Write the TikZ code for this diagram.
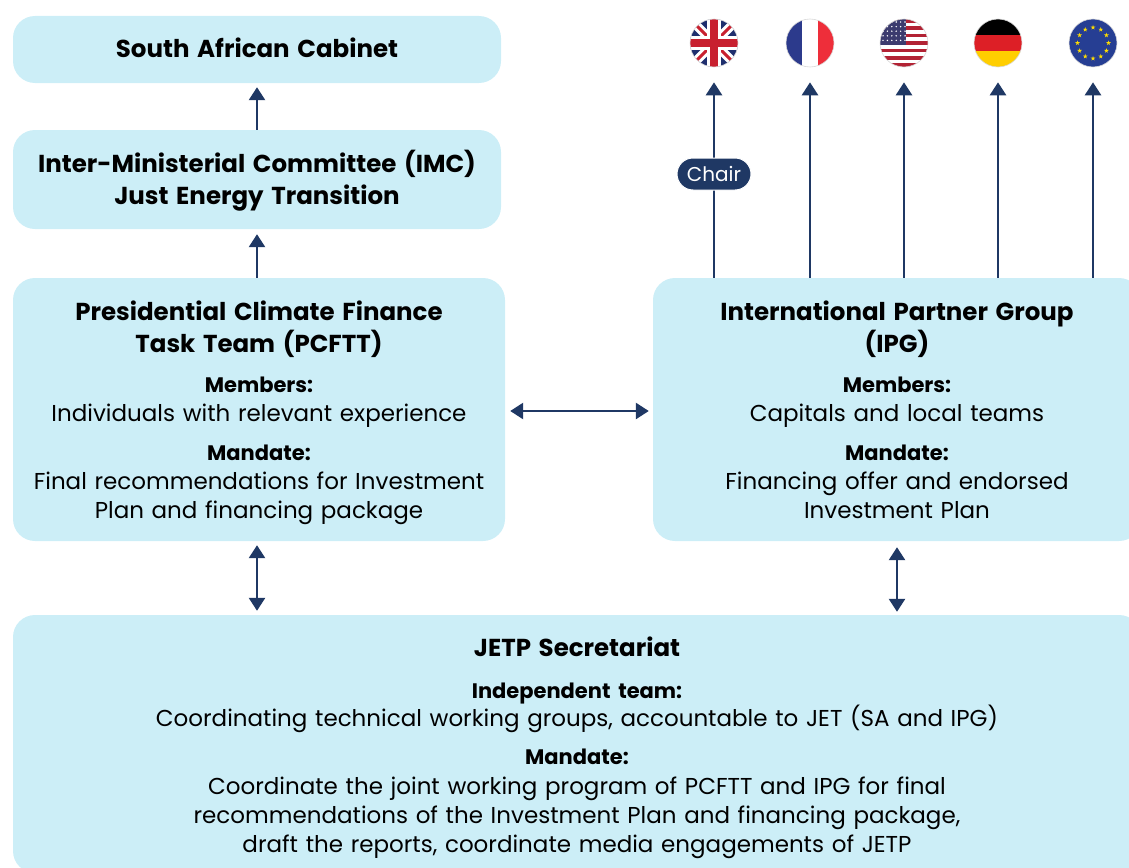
\documentclass[tikz,border=0pt]{standalone}
\usepackage{fontspec}
\setmainfont{Poppins}[WordSpace=1.5]
\usetikzlibrary{arrows.meta,shapes.misc}
\definecolor{boxfill}{HTML}{CCEEF7}
\definecolor{navy}{HTML}{1F3864}
\definecolor{ukblue}{HTML}{1F2F6E}
\definecolor{ukred}{HTML}{C8202F}
\definecolor{frblue}{HTML}{2C3A8C}
\definecolor{frred}{HTML}{EE2E3A}
\definecolor{usred}{HTML}{B22234}
\definecolor{usblue}{HTML}{3C3B6E}
\definecolor{dered}{HTML}{DD1F26}
\definecolor{degold}{HTML}{FFCE00}
\definecolor{eublue}{HTML}{263E93}
\definecolor{euyellow}{HTML}{FFDD00}
\newcommand\boxtitle{\fontsize{24.5}{29}\selectfont\bfseries}
\newcommand\boxsub{\fontsize{21}{29}\selectfont\bfseries}
\newcommand\boxbody{\fontsize{23}{29}\selectfont\mdseries}
\begin{document}
\begin{tikzpicture}[x=1pt,y=-1pt,
  panel/.style={fill=boxfill, draw=none, rounded corners=22pt, inner sep=0pt},
  paneltext/.style={inner sep=0pt, align=center, text=black, font=\fontsize{23}{29}\selectfont},
  arr/.style={draw=navy, line width=2.6pt, -{Triangle[width=16pt,length=13pt]}},
  dbl/.style={draw=navy, line width=2.6pt, {Triangle[width=16pt,length=13pt]}-{Triangle[width=16pt,length=13pt]}},
  flag/.style={circle, minimum size=48pt, inner sep=0pt, draw=black!15, line width=0.6pt},
  chairtag/.style={rounded rectangle, fill=navy, draw=white, line width=1pt, minimum width=74pt, minimum height=32pt, inner sep=0pt, text=white, font=\fontsize{20}{24}\selectfont}
]
\useasboundingbox (0,0) rectangle (1129,867);
\clip (0,0) rectangle (1129,867);

% boxes
\node[panel, minimum width=488pt, minimum height=67pt] (cab) at (257,49.5) {};
\node[paneltext, text width=480pt] (cabT) at ([yshift=2pt]cab.center)
  {\boxtitle South African Cabinet};

\node[panel, minimum width=488pt, minimum height=99pt] (imc) at (257,179.5) {};
\node[paneltext, text width=480pt] (imcT) at ([yshift=-1pt]imc.center)
  {\boxtitle Inter-Ministerial Committee (IMC)\\[3pt]
   \boxtitle Just Energy Transition};

\node[panel, minimum width=492pt, minimum height=263pt] (pcftt) at (259,409.5) {};
\node[paneltext, text width=484pt] (pcfttT) at ([yshift=-3pt]pcftt.center)
  {\boxtitle Presidential Climate Finance\\[3pt]
   \boxtitle Task Team (PCFTT)\\[11pt]
   \boxsub Members:\\
   \boxbody Individuals with relevant experience\\[10pt]
   \boxsub Mandate:\\
   \boxbody Final recommendations for Investment\\
   \boxbody Plan and financing package};

\node[panel, minimum width=488pt, minimum height=263pt] (ipg) at (897,409.5) {};
\node[paneltext, text width=480pt] (ipgT) at ([yshift=0pt]ipg.center)
  {\boxtitle International Partner Group\\[3pt]
   \boxtitle (IPG)\\[11pt]
   \boxsub Members:\\
   \boxbody Capitals and local teams\\[10pt]
   \boxsub Mandate:\\
   \boxbody Financing offer and endorsed\\
   \boxbody Investment Plan};

\node[panel, minimum width=1128pt, minimum height=258pt] (jetp) at (577,744) {};
\node[paneltext, text width=1100pt] (jetpT) at ([yshift=-4pt]jetp.center)
  {\boxtitle JETP Secretariat\\[13pt]
   \boxsub Independent team:\\[-1pt]
   \boxbody Coordinating technical working groups, accountable to JET (SA and IPG)\\[9pt]
   \boxsub Mandate:\\[1pt]
   \boxbody Coordinate the joint working program of PCFTT and IPG for final\\
   \boxbody recommendations of the Investment Plan and financing package,\\
   \boxbody draft the reports, coordinate media engagements of JETP};

% flags
\node[flag, path picture={
  \begin{scope}[shift={(path picture bounding box.center)}]
    \fill[ukblue] (-26,-26) rectangle (26,26);
    \draw[white,line width=9pt] (-26,-26)--(26,26) (-26,26)--(26,-26);
    \draw[ukred,line width=3pt] (-26,-26)--(26,26) (-26,26)--(26,-26);
    \draw[white,line width=14pt] (-26,0)--(26,0) (0,-26)--(0,26);
    \draw[ukred,line width=8pt] (-26,0)--(26,0) (0,-26)--(0,26);
  \end{scope}}] (uk) at (714,43) {};
\node[flag, path picture={
  \begin{scope}[shift={(path picture bounding box.center)}]
    \fill[white] (-26,-26) rectangle (26,26);
    \fill[frblue] (-26,-26) rectangle (-8,26);
    \fill[frred] (8,-26) rectangle (26,26);
  \end{scope}}] (fr) at (810,43) {};
\node[flag, path picture={
  \begin{scope}[shift={(path picture bounding box.center)}]
    \fill[white] (-26,-26) rectangle (26,26);
    \foreach \i in {0,2,...,12} {
      \fill[usred] (-26,{-24+\i*48/13}) rectangle (26,{-24+(\i+1)*48/13});
    }
    \fill[usred] (-26,-26) rectangle (26,-24);
    \fill[usred] (-26,24) rectangle (26,26);
    \fill[usblue] (-26,-26) rectangle (2,{-24+7*48/13});
    \foreach \i in {0,...,5} \foreach \j in {0,...,4} {
      \fill[white] ({-21+\i*4.4},{-21+\j*4.6}) circle (0.8);
    }
  \end{scope}}] (us) at (904,43) {};
\node[flag, path picture={
  \begin{scope}[shift={(path picture bounding box.center)}]
    \fill[black] (-26,-26) rectangle (26,-8);
    \fill[dered] (-26,-8) rectangle (26,8);
    \fill[degold] (-26,8) rectangle (26,26);
  \end{scope}}] (de) at (998,43) {};
\node[flag, path picture={
  \begin{scope}[shift={(path picture bounding box.center)}]
    \fill[eublue] (-26,-26) rectangle (26,26);
    \foreach \a [evaluate=\a as \cx using {15.5*cos(\a)}, evaluate=\a as \cy using {15.5*sin(\a)}] in {0,30,...,330} {
      \fill[euyellow] (\cx,\cy) +(-90:2.5) -- +(54:2.5) -- +(198:2.5) -- +(-18:2.5) -- +(126:2.5) -- cycle;
    }
  \end{scope}}] (eu) at (1093,43) {};

% connectors
\draw[arr, shorten >=4pt] (imc.north) -- (cab.south);
\draw[arr, shorten >=5pt] (pcftt.north -| imc.south) -- (imc.south);
\draw[dbl, shorten <=5pt, shorten >=4pt] ([yshift=-1.5pt]pcftt.east) -- ([yshift=-1.5pt]ipg.west);
\draw[dbl, shorten <=4pt, shorten >=4pt] (pcftt.south -| imc.south) -- (jetp.north -| imc.south);
\draw[dbl, shorten <=6pt, shorten >=3pt] (ipg.south) -- (jetp.north -| ipg.south);
\foreach \f in {uk,fr,us,de,eu} {
  \draw[arr, shorten >=15pt] (ipg.north -| \f.south) -- (\f.south);
}
\node[chairtag] (chair) at (714,174) {Chair};
\end{tikzpicture}
\end{document}
